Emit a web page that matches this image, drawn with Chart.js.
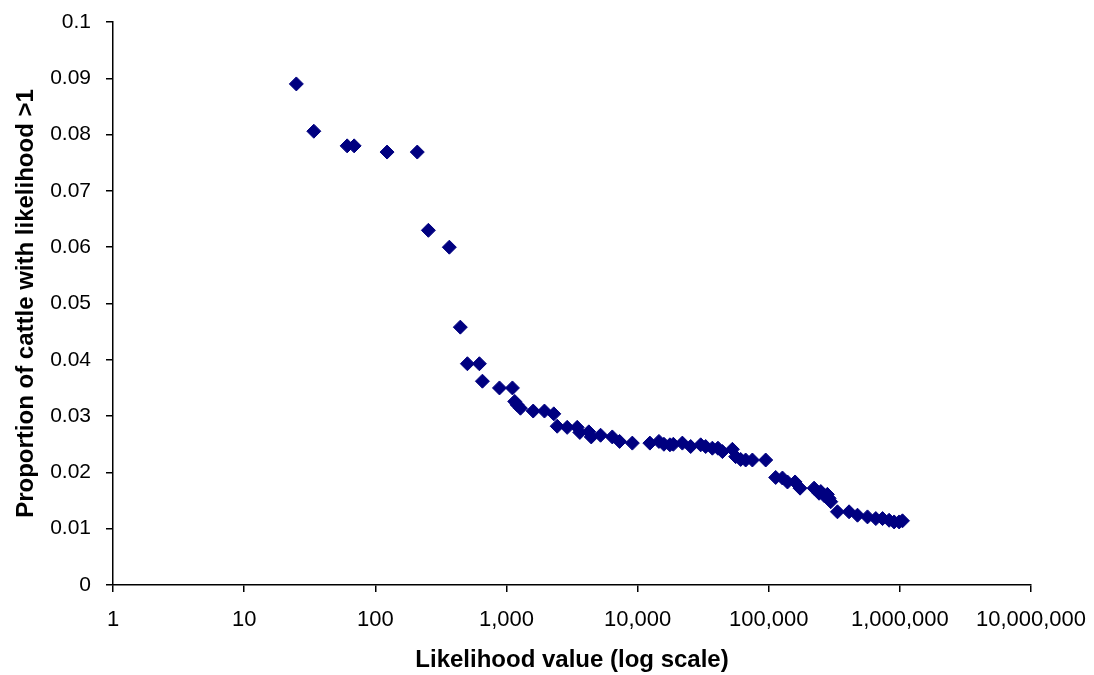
<!DOCTYPE html>
<html>
<head>
<meta charset="utf-8">
<script src="https://cdn.jsdelivr.net/npm/chart.js@4/dist/chart.umd.min.js"></script>
<style>
  html, body { margin: 0; padding: 0; background: #fff; }
  #wrap { width: 1094px; height: 675px; }
</style>
</head>
<body>
<div id="wrap"><canvas id="chart" width="1094" height="675"></canvas></div>
<script>
// Likelihood values (x, log scale)
const likelihood = [25, 34, 61, 69, 123, 209, 254, 367, 445, 504, 622, 656, 885, 1111,
  1157, 1207, 1279, 1600, 1950, 2297, 2438, 2906, 3465, 3629, 4250, 4433, 5224, 6415,
  7295, 9120, 12410, 14550, 15880, 17650, 18740, 21950, 25400, 30290, 33050, 37170,
  41020, 44350, 52840, 55980, 61110, 66710, 75100, 94850, 113000, 127300, 139000,
  158900, 173400, 221800, 242100, 249500, 264200, 280000, 288600, 297300, 334400,
  410100, 475300, 566400, 655600, 737900, 828300, 904500, 988000, 1047000];

// Proportion of cattle with likelihood > 1
const proportion = [0.089, 0.0806, 0.078, 0.078, 0.0769, 0.0769, 0.063, 0.060, 0.0458,
  0.0393, 0.0393, 0.0362, 0.035, 0.035, 0.0326, 0.0320, 0.0314, 0.0309, 0.0309, 0.0304,
  0.0282, 0.0280, 0.0280, 0.0271, 0.0272, 0.0263, 0.0266, 0.0263, 0.0255, 0.0252,
  0.0252, 0.0255, 0.0250, 0.0249, 0.0250, 0.0252, 0.0246, 0.0249, 0.0246, 0.0243,
  0.0243, 0.0237, 0.0241, 0.0228, 0.0223, 0.0222, 0.0222, 0.0222, 0.0191, 0.0190,
  0.0183, 0.0183, 0.0172, 0.0172, 0.0163, 0.0166, 0.0159, 0.0161, 0.0154, 0.0148,
  0.0130, 0.0130, 0.0124, 0.0121, 0.0118, 0.0118, 0.0115, 0.0112, 0.0112, 0.0114];

// Tick positions
const xTicks = [1, 10, 100, 1000, 10000, 100000, 1000000, 10000000];
const yTicks = [0, 0.01, 0.02, 0.03, 0.04, 0.05, 0.06, 0.07, 0.08, 0.09, 0.1];

const points = likelihood.map((v, i) => ({ x: v, y: proportion[i] }));

const font = "'Liberation Sans', Arial, sans-serif";

const ctx = document.getElementById('chart').getContext('2d');
new Chart(ctx, {
  type: 'scatter',
  data: {
    datasets: [{
      data: points,
      pointStyle: 'rectRot',
      pointRadius: 7,
      pointHoverRadius: 7,
      backgroundColor: '#000080',
      borderColor: '#000080',
      borderWidth: 1
    }]
  },
  options: {
    responsive: false,
    animation: false,
    devicePixelRatio: 1,
    layout: { padding: { top: 22, left: 12, right: 63, bottom: 0 } },
    plugins: {
      legend: { display: false },
      tooltip: { enabled: false }
    },
    scales: {
      x: {
        type: 'logarithmic',
        min: 1,
        max: 10000000,
        afterBuildTicks: (scale) => { scale.ticks = xTicks.map(v => ({ value: v })); },
        afterFit: (scale) => {
          scale.height = 90;
          scale.paddingLeft = 0;
          scale.paddingRight = 0;
        },
        grid: { display: true, drawOnChartArea: false, drawTicks: true, tickLength: 7, color: '#000', lineWidth: 1.5 },
        border: { color: '#000', width: 1.5 },
        ticks: {
          color: '#000',
          font: { family: font, size: 22 },
          padding: 15,
          maxRotation: 0,
          autoSkip: false,
          callback: (v) => Number(v).toLocaleString('en-US')
        },
        title: {
          display: true,
          text: 'Likelihood value (log scale)',
          color: '#000',
          font: { family: font, size: 24, weight: 'bold' },
          padding: { top: 8, bottom: 0 }
        }
      },
      y: {
        min: 0,
        max: 0.1,
        afterBuildTicks: (scale) => { scale.ticks = yTicks.map(v => ({ value: v })); },
        afterFit: (scale) => {
          scale.width = 101;
          scale.paddingTop = 0;
          scale.paddingBottom = 0;
        },
        grid: { display: true, drawOnChartArea: false, drawTicks: true, tickLength: 7, color: '#000', lineWidth: 1.5 },
        border: { color: '#000', width: 1.5 },
        ticks: {
          color: '#000',
          font: { family: font, size: 21 },
          padding: 15,
          callback: (v) => String(+Number(v).toFixed(2))
        },
        title: {
          display: true,
          text: 'Proportion of cattle with likelihood >1',
          color: '#000',
          font: { family: font, size: 24, weight: 'bold' },
          padding: { top: 0, bottom: 8 }
        }
      }
    }
  }
});
</script>
</body>
</html>
